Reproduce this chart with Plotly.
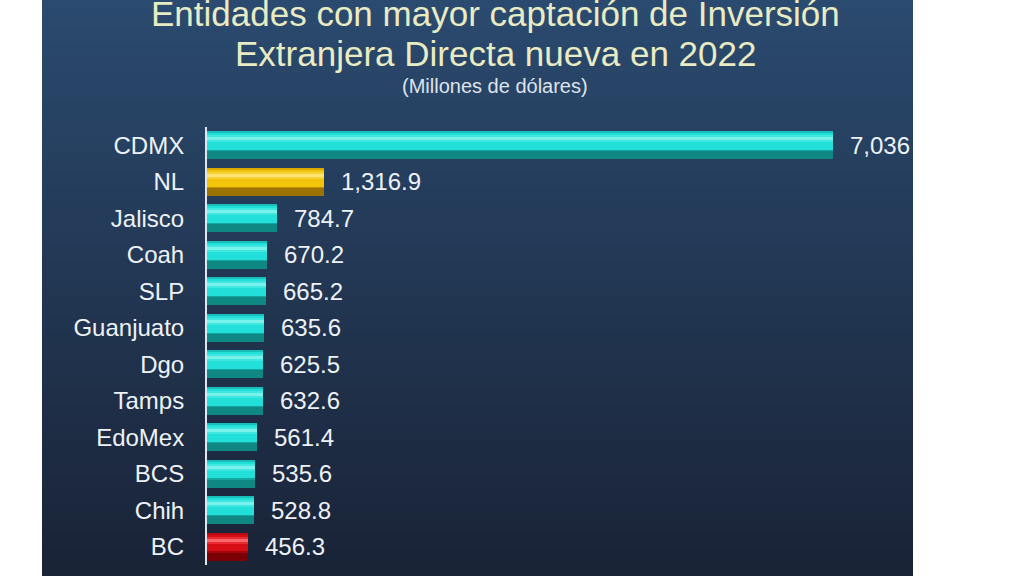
import plotly.graph_objects as go

categories = ["CDMX", "NL", "Jalisco", "Coah", "SLP", "Guanjuato", "Dgo", "Tamps",
              "EdoMex", "BCS", "Chih", "BC"]
values = [7036, 1316.9, 784.7, 670.2, 665.2, 635.6, 625.5, 632.6, 561.4, 535.6, 528.8, 456.3]
value_labels = ["7,036", "1,316.9", "784.7", "670.2", "665.2", "635.6", "625.5", "632.6",
                "561.4", "535.6", "528.8", "456.3"]
bar_group = ["cyan", "gold", "cyan", "cyan", "cyan", "cyan", "cyan", "cyan",
             "cyan", "cyan", "cyan", "red"]

title_line1 = "Entidades con mayor captación de Inversión"
title_line2 = "Extranjera Directa nueva en 2022"
subtitle = "(Millones de dólares)"

palette = {
    "cyan": {"shadow": "#0f8783", "low": "#14a5a0", "face": "#22dfd9", "edge": "#18bfba",
             "soft": "#40e6e0", "hi": "#7af2ec"},
    "gold": {"shadow": "#9c7300", "low": "#c09000", "face": "#f3c40c", "edge": "#d9a900",
             "soft": "#f7d236", "hi": "#ffe474"},
    "red":  {"shadow": "#7a0004", "low": "#a0060c", "face": "#d80e16", "edge": "#b80a10",
             "soft": "#e82c32", "hi": "#ff666a"},
}

def cols(key):
    return [palette[g][key] for g in bar_group]

layers = [  # (color key, width, offset) in category units
    ("shadow", 0.78, -0.39),
    ("low", 0.06, 0.10),
    ("face", 0.52, -0.39),
    ("edge", 0.06, -0.39),
    ("soft", 0.20, -0.28),
    ("hi", 0.08, -0.22),
]

fig = go.Figure()
for key, w, off in layers:
    fig.add_trace(go.Bar(y=categories, x=values, orientation="h", width=w, offset=off,
                         marker=dict(color=cols(key), line=dict(width=0)), hoverinfo="skip"))

# value labels
for c, v, t in zip(categories, values, value_labels):
    fig.add_annotation(x=v, y=c, text=t, showarrow=False, xanchor="left", yanchor="middle",
                       xshift=15, font=dict(family="Liberation Sans, Arial, sans-serif",
                                            size=24, color="#eef2f7"))

# background panel with vertical gradient
L, T, B = 207, 127, 11
W, H = 1024, 576
pw = W - L - 112
ph = H - T - B
x0 = (42 - L) / pw
x1 = (913 - L) / pw
top_c = (0x2b, 0x4a, 0x6f)
bot_c = (0x1a, 0x24, 0x37)
n = 40
for i in range(n):
    f = i / (n - 1)
    r = int(top_c[0] + (bot_c[0] - top_c[0]) * f)
    g = int(top_c[1] + (bot_c[1] - top_c[1]) * f)
    b = int(top_c[2] + (bot_c[2] - top_c[2]) * f)
    ytop = H * i / n
    ybot = H * (i + 1) / n + 1
    fig.add_shape(type="rect", xref="paper", yref="paper", layer="below",
                  x0=x0, x1=x1, y0=(H - B - ybot) / ph, y1=(H - B - ytop) / ph,
                  fillcolor=f"rgb({r},{g},{b})", line=dict(width=0))

def ypaper(pix):
    return (H - B - pix) / ph

tfont = "Liberation Sans, Arial, sans-serif"
fig.add_annotation(xref="paper", yref="paper", x=(495 - L) / pw, y=ypaper(13), text=title_line1,
                   showarrow=False, xanchor="center", yanchor="middle",
                   font=dict(family=tfont, size=35, color="#e9ebc3"))
fig.add_annotation(xref="paper", yref="paper", x=(495 - L) / pw, y=ypaper(53), text=title_line2,
                   showarrow=False, xanchor="center", yanchor="middle",
                   font=dict(family=tfont, size=35, color="#e9ebc3"))
fig.add_annotation(xref="paper", yref="paper", x=(495 - L) / pw, y=ypaper(86), text=subtitle,
                   showarrow=False, xanchor="center", yanchor="middle",
                   font=dict(family=tfont, size=20, color="#dfe3ea"))

fig.update_layout(
    width=W, height=H,
    margin=dict(l=L, r=112, t=T, b=B, pad=0),
    paper_bgcolor="white", plot_bgcolor="rgba(0,0,0,0)",
    barmode="overlay", showlegend=False, bargap=0,
    xaxis=dict(range=[0, 7924], visible=False, fixedrange=True),
    yaxis=dict(autorange="reversed", showline=True, linecolor="#dfe6ee", linewidth=2,
               showgrid=False, zeroline=False, ticks="", ticklabelstandoff=16,
               tickfont=dict(family="Liberation Sans, Arial, sans-serif", size=24, color="#eef2f7")),
)

fig.write_html("out.html")
